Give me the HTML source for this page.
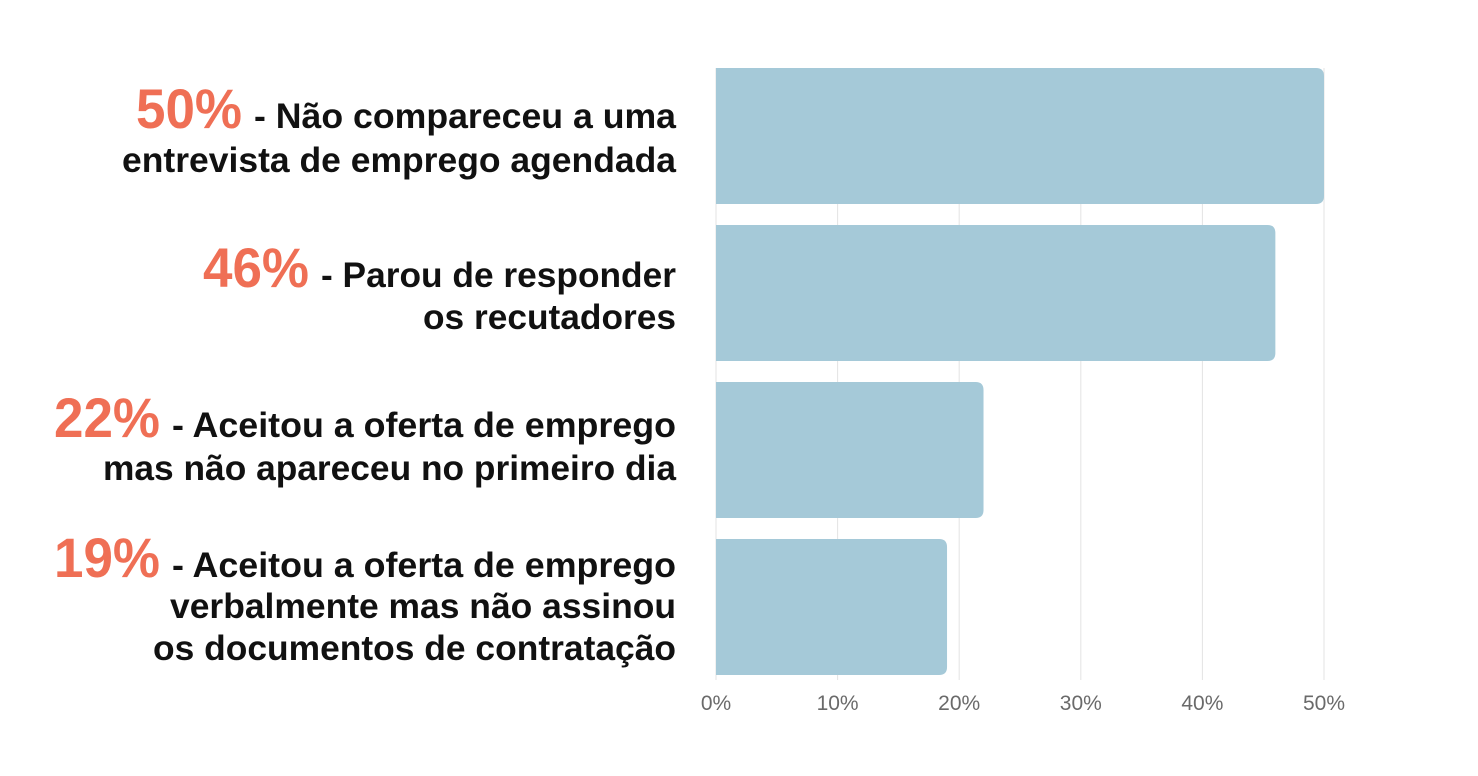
<!DOCTYPE html>
<html><head><meta charset="utf-8"><style>
html,body{margin:0;padding:0;background:#fff}
svg{display:block}
text{font-family:"Liberation Sans",sans-serif}
</style></head><body>
<svg id="chart" width="1478" height="776" viewBox="0 0 1478 776">
<g id="grid"></g>
<g id="bars"></g>
<g id="ticks"></g>
<g id="labels"></g>
</svg>
<script>
const categories = [
  ["- Não compareceu a uma", "entrevista de emprego agendada"],
  ["- Parou de responder", "os recutadores"],
  ["- Aceitou a oferta de emprego", "mas não apareceu no primeiro dia"],
  ["- Aceitou a oferta de emprego", "verbalmente mas não assinou", "os documentos de contratação"]
];
const values = [50, 46, 22, 19];
const tickValues = [0, 10, 20, 30, 40, 50];
const tickLabels = ["0%", "10%", "20%", "30%", "40%", "50%"];

const NS = "http://www.w3.org/2000/svg";
const x0 = 716, pxPer = (1324 - 716) / 50;
const xs = v => x0 + v * pxPer;
const bandTop = 68, bandStep = 157, barH = 136;
const ys = i => bandTop + i * bandStep;
function mk(tag, attrs, parent){const e=document.createElementNS(NS,tag);for(const k in attrs)e.setAttribute(k,attrs[k]);parent.appendChild(e);return e;}

const grid = document.getElementById('grid');
tickValues.forEach((t,i)=>{
  const l = mk('line',{x1:xs(t),x2:xs(t),y1:68,y2:680,stroke:'#e3e3e3','stroke-width':1},grid);
  
  
  const tx = mk('text',{x:xs(t),y:710,'text-anchor':'middle','font-size':21,fill:'#6a6a6a'},document.getElementById('ticks'));
  tx.textContent = tickLabels[i];
  
  
});

const bars = document.getElementById('bars');
values.forEach((v,i)=>{
  const w = xs(v) - x0, y = ys(i), r = 8;
  const p = mk('path',{d:`M${x0},${y} H${x0+w-r} Q${x0+w},${y} ${x0+w},${y+r} V${y+barH-r} Q${x0+w},${y+barH} ${x0+w-r},${y+barH} H${x0} Z`,fill:'#a5c9d8'},bars);
  
  
});

// text layout (pixel positions, not data)
const layoutBase = [[128,172],[287,329],[437,480],[577,618,660]];
const layoutWidth = [[422,554],[355,253],[504,573],[504,506,523]];
const pctWidth = 106;

const labels = document.getElementById('labels');
const right = 676;
values.forEach((v,i)=>{
  categories[i].forEach((s,j)=>{
    const wl = layoutWidth[i][j];
    const t = mk('text',{x:right-wl,y:layoutBase[i][j],'font-size':35,'font-weight':'bold',fill:'#111',textLength:wl,lengthAdjust:'spacingAndGlyphs'},labels);
    t.textContent = s;
    
    
  });
  const pr = right - layoutWidth[i][0] - 12;
  const pt = mk('text',{x:pr-pctWidth,y:layoutBase[i][0],'font-size':56,'font-weight':'bold',fill:'#ef6f55',textLength:pctWidth,lengthAdjust:'spacingAndGlyphs'},labels);
  pt.textContent = v + '%';
  
  
});
</script>
</body></html>
